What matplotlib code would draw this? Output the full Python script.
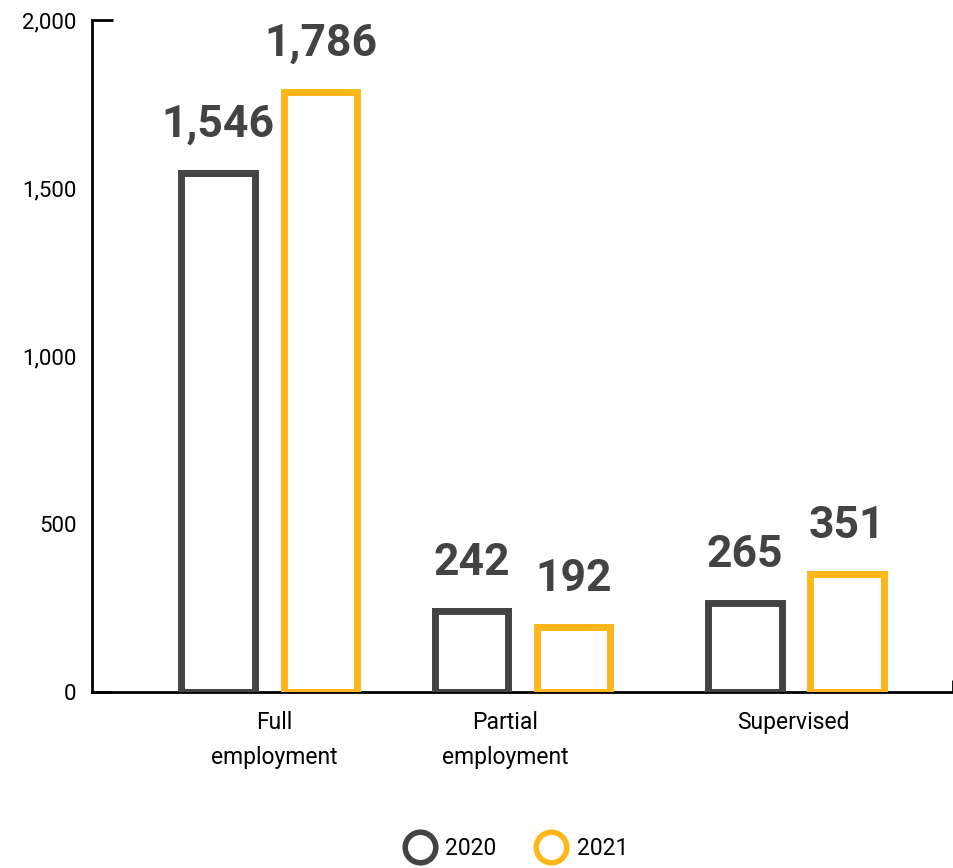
import numpy as np
import matplotlib.pyplot as plt
from matplotlib.lines import Line2D

plt.rcParams['font.family'] = ['Roboto', 'DejaVu Sans']

# Datos
categorias = ["Full\nemployment", "Partial\nemployment", "Supervised"]
anios = ["2020", "2021"]
valores_2020 = [1546, 242, 265]
valores_2021 = [1786, 192, 351]

colores = ["#434343", "#FDB71A"]
color_texto = "#434343"

# posiciones de los grupos y de las etiquetas de categoria
x_grupos = np.array([0.0, 1.0, 2.08])
x_etiquetas = np.array([0.02, 0.93, 2.07])
desplaz = 0.202
ancho = 0.29

fig = plt.figure(figsize=(9.54, 8.68), dpi=100)
ax = fig.add_axes([0.0964, 0.2028, 0.9026, 0.7742])

for serie, signo, color in [(valores_2020, -1, colores[0]), (valores_2021, 1, colores[1])]:
    xs = x_grupos + signo * desplaz
    ax.bar(xs, serie, width=ancho, facecolor="white", edgecolor=color, linewidth=5, zorder=3)
    for x, v in zip(xs, serie):
        ax.annotate(f"{v:,}", (x, v), xytext=(0, 26), textcoords="offset points",
                    ha="center", va="baseline", fontsize=32, fontweight="bold",
                    color=color_texto)

ax.set_xlim(-0.70, 2.70)
ax.set_ylim(0, 2000)

# eje y
ax.yaxis.remove_overlapping_locs = False
ax.set_yticks([0, 500, 1000, 1500, 2000])
ax.set_yticklabels(["0", "500", "1,000", "1,500", "2,000"])
ax.tick_params(axis="y", length=0, pad=11, labelsize=16)
ax.set_yticks([0, 2000], minor=True)
ax.tick_params(axis="y", which="minor", direction="in", length=15, width=2)

# eje x
ax.set_xticks([])
ax.set_xticks([2.70], minor=True)
ax.tick_params(axis="x", which="minor", direction="in", length=9, width=2, labelbottom=False)
for x, etiqueta in zip(x_etiquetas, categorias):
    ax.annotate(etiqueta, (x, 0), xytext=(0, -14), textcoords="offset points",
                ha="center", va="top", fontsize=16.5, linespacing=1.65)

for lado in ["top", "right"]:
    ax.spines[lado].set_visible(False)
for lado in ["left", "bottom"]:
    ax.spines[lado].set_linewidth(2)
    ax.spines[lado].set_color("black")

# leyenda
marcas = [Line2D([], [], linestyle="none", marker="o", markersize=22,
                 markerfacecolor="white", markeredgecolor=c, markeredgewidth=4)
          for c in colores]
fig.legend(marcas, anios, loc="center", bbox_to_anchor=(0.542, 0.022), ncol=2,
           frameon=False, fontsize=16.5, handletextpad=0.5, columnspacing=1.8,
           handlelength=1.2)

plt.savefig("out.png", dpi=100)
